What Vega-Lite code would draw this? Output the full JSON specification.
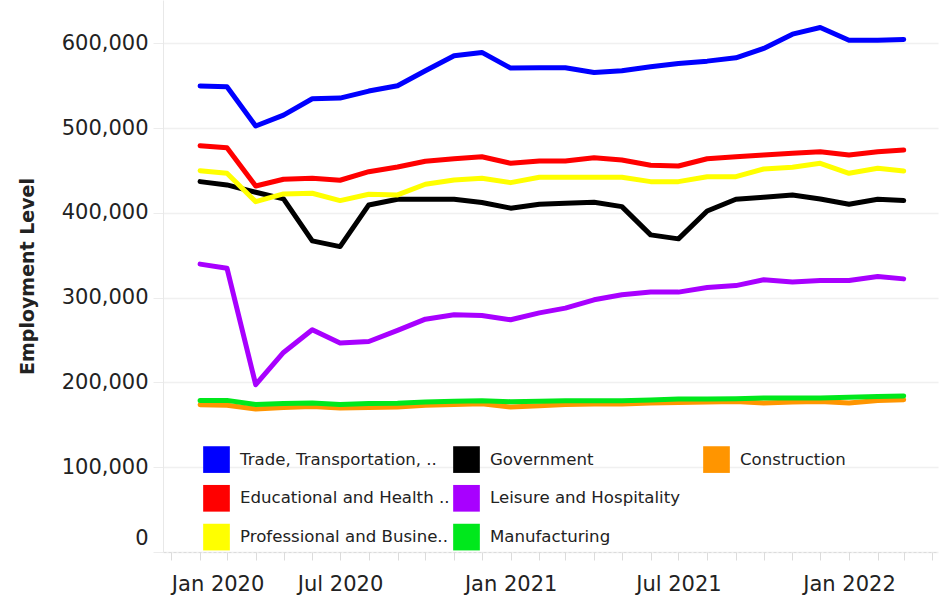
{
  "$schema": "https://vega.github.io/schema/vega-lite/v6.json",
  "width": 775,
  "height": 552,
  "autosize": {"type": "none"},
  "padding": {"left": 163, "top": 0, "right": 7, "bottom": 48},
  "background": "white",
  "config": {"view": {"stroke": null}, "font": "DejaVu Sans"},
  "datasets": {
    "employment": [
      {"month":"2020-02-01","sector":"Construction","employment":173700},
      {"month":"2020-03-01","sector":"Construction","employment":173000},
      {"month":"2020-04-01","sector":"Construction","employment":168700},
      {"month":"2020-05-01","sector":"Construction","employment":170500},
      {"month":"2020-06-01","sector":"Construction","employment":171700},
      {"month":"2020-07-01","sector":"Construction","employment":169800},
      {"month":"2020-08-01","sector":"Construction","employment":170500},
      {"month":"2020-09-01","sector":"Construction","employment":171000},
      {"month":"2020-10-01","sector":"Construction","employment":173000},
      {"month":"2020-11-01","sector":"Construction","employment":174000},
      {"month":"2020-12-01","sector":"Construction","employment":174900},
      {"month":"2021-01-01","sector":"Construction","employment":171000},
      {"month":"2021-02-01","sector":"Construction","employment":172600},
      {"month":"2021-03-01","sector":"Construction","employment":174000},
      {"month":"2021-04-01","sector":"Construction","employment":174500},
      {"month":"2021-05-01","sector":"Construction","employment":174500},
      {"month":"2021-06-01","sector":"Construction","employment":175700},
      {"month":"2021-07-01","sector":"Construction","employment":176400},
      {"month":"2021-08-01","sector":"Construction","employment":176800},
      {"month":"2021-09-01","sector":"Construction","employment":177500},
      {"month":"2021-10-01","sector":"Construction","employment":175700},
      {"month":"2021-11-01","sector":"Construction","employment":176800},
      {"month":"2021-12-01","sector":"Construction","employment":177500},
      {"month":"2022-01-01","sector":"Construction","employment":175700},
      {"month":"2022-02-01","sector":"Construction","employment":178800},
      {"month":"2022-03-01","sector":"Construction","employment":179600},
      {"month":"2020-02-01","sector":"Manufacturing","employment":178800},
      {"month":"2020-03-01","sector":"Manufacturing","employment":178800},
      {"month":"2020-04-01","sector":"Manufacturing","employment":174000},
      {"month":"2020-05-01","sector":"Manufacturing","employment":175000},
      {"month":"2020-06-01","sector":"Manufacturing","employment":175700},
      {"month":"2020-07-01","sector":"Manufacturing","employment":174000},
      {"month":"2020-08-01","sector":"Manufacturing","employment":175200},
      {"month":"2020-09-01","sector":"Manufacturing","employment":175500},
      {"month":"2020-10-01","sector":"Manufacturing","employment":176900},
      {"month":"2020-11-01","sector":"Manufacturing","employment":177700},
      {"month":"2020-12-01","sector":"Manufacturing","employment":178400},
      {"month":"2021-01-01","sector":"Manufacturing","employment":177300},
      {"month":"2021-02-01","sector":"Manufacturing","employment":177700},
      {"month":"2021-03-01","sector":"Manufacturing","employment":178400},
      {"month":"2021-04-01","sector":"Manufacturing","employment":178400},
      {"month":"2021-05-01","sector":"Manufacturing","employment":178400},
      {"month":"2021-06-01","sector":"Manufacturing","employment":179200},
      {"month":"2021-07-01","sector":"Manufacturing","employment":180400},
      {"month":"2021-08-01","sector":"Manufacturing","employment":180400},
      {"month":"2021-09-01","sector":"Manufacturing","employment":180800},
      {"month":"2021-10-01","sector":"Manufacturing","employment":181600},
      {"month":"2021-11-01","sector":"Manufacturing","employment":181600},
      {"month":"2021-12-01","sector":"Manufacturing","employment":181600},
      {"month":"2022-01-01","sector":"Manufacturing","employment":182400},
      {"month":"2022-02-01","sector":"Manufacturing","employment":183500},
      {"month":"2022-03-01","sector":"Manufacturing","employment":184000},
      {"month":"2020-02-01","sector":"Leisure and Hospitality","employment":339500},
      {"month":"2020-03-01","sector":"Leisure and Hospitality","employment":334700},
      {"month":"2020-04-01","sector":"Leisure and Hospitality","employment":197300},
      {"month":"2020-05-01","sector":"Leisure and Hospitality","employment":235300},
      {"month":"2020-06-01","sector":"Leisure and Hospitality","employment":262100},
      {"month":"2020-07-01","sector":"Leisure and Hospitality","employment":246400},
      {"month":"2020-08-01","sector":"Leisure and Hospitality","employment":248300},
      {"month":"2020-09-01","sector":"Leisure and Hospitality","employment":261300},
      {"month":"2020-10-01","sector":"Leisure and Hospitality","employment":274600},
      {"month":"2020-11-01","sector":"Leisure and Hospitality","employment":279700},
      {"month":"2020-12-01","sector":"Leisure and Hospitality","employment":278900},
      {"month":"2021-01-01","sector":"Leisure and Hospitality","employment":273900},
      {"month":"2021-02-01","sector":"Leisure and Hospitality","employment":282000},
      {"month":"2021-03-01","sector":"Leisure and Hospitality","employment":287600},
      {"month":"2021-04-01","sector":"Leisure and Hospitality","employment":297400},
      {"month":"2021-05-01","sector":"Leisure and Hospitality","employment":303300},
      {"month":"2021-06-01","sector":"Leisure and Hospitality","employment":306500},
      {"month":"2021-07-01","sector":"Leisure and Hospitality","employment":306500},
      {"month":"2021-08-01","sector":"Leisure and Hospitality","employment":311900},
      {"month":"2021-09-01","sector":"Leisure and Hospitality","employment":314200},
      {"month":"2021-10-01","sector":"Leisure and Hospitality","employment":321000},
      {"month":"2021-11-01","sector":"Leisure and Hospitality","employment":318300},
      {"month":"2021-12-01","sector":"Leisure and Hospitality","employment":320100},
      {"month":"2022-01-01","sector":"Leisure and Hospitality","employment":320100},
      {"month":"2022-02-01","sector":"Leisure and Hospitality","employment":324900},
      {"month":"2022-03-01","sector":"Leisure and Hospitality","employment":322100},
      {"month":"2020-02-01","sector":"Government","employment":436800},
      {"month":"2020-03-01","sector":"Government","employment":432900},
      {"month":"2020-04-01","sector":"Government","employment":424300},
      {"month":"2020-05-01","sector":"Government","employment":416400},
      {"month":"2020-06-01","sector":"Government","employment":366900},
      {"month":"2020-07-01","sector":"Government","employment":360200},
      {"month":"2020-08-01","sector":"Government","employment":409300},
      {"month":"2020-09-01","sector":"Government","employment":416000},
      {"month":"2020-10-01","sector":"Government","employment":416000},
      {"month":"2020-11-01","sector":"Government","employment":416000},
      {"month":"2020-12-01","sector":"Government","employment":412100},
      {"month":"2021-01-01","sector":"Government","employment":405500},
      {"month":"2021-02-01","sector":"Government","employment":410200},
      {"month":"2021-03-01","sector":"Government","employment":411300},
      {"month":"2021-04-01","sector":"Government","employment":412500},
      {"month":"2021-05-01","sector":"Government","employment":407300},
      {"month":"2021-06-01","sector":"Government","employment":374000},
      {"month":"2021-07-01","sector":"Government","employment":369300},
      {"month":"2021-08-01","sector":"Government","employment":402200},
      {"month":"2021-09-01","sector":"Government","employment":416000},
      {"month":"2021-10-01","sector":"Government","employment":418400},
      {"month":"2021-11-01","sector":"Government","employment":421100},
      {"month":"2021-12-01","sector":"Government","employment":416400},
      {"month":"2022-01-01","sector":"Government","employment":410200},
      {"month":"2022-02-01","sector":"Government","employment":416000},
      {"month":"2022-03-01","sector":"Government","employment":414400},
      {"month":"2020-02-01","sector":"Professional and Business Services","employment":449700},
      {"month":"2020-03-01","sector":"Professional and Business Services","employment":446600},
      {"month":"2020-04-01","sector":"Professional and Business Services","employment":413200},
      {"month":"2020-05-01","sector":"Professional and Business Services","employment":422300},
      {"month":"2020-06-01","sector":"Professional and Business Services","employment":423100},
      {"month":"2020-07-01","sector":"Professional and Business Services","employment":414400},
      {"month":"2020-08-01","sector":"Professional and Business Services","employment":421900},
      {"month":"2020-09-01","sector":"Professional and Business Services","employment":421100},
      {"month":"2020-10-01","sector":"Professional and Business Services","employment":433700},
      {"month":"2020-11-01","sector":"Professional and Business Services","employment":438800},
      {"month":"2020-12-01","sector":"Professional and Business Services","employment":440700},
      {"month":"2021-01-01","sector":"Professional and Business Services","employment":435600},
      {"month":"2021-02-01","sector":"Professional and Business Services","employment":441900},
      {"month":"2021-03-01","sector":"Professional and Business Services","employment":441900},
      {"month":"2021-04-01","sector":"Professional and Business Services","employment":441900},
      {"month":"2021-05-01","sector":"Professional and Business Services","employment":441900},
      {"month":"2021-06-01","sector":"Professional and Business Services","employment":436800},
      {"month":"2021-07-01","sector":"Professional and Business Services","employment":436800},
      {"month":"2021-08-01","sector":"Professional and Business Services","employment":442600},
      {"month":"2021-09-01","sector":"Professional and Business Services","employment":442600},
      {"month":"2021-10-01","sector":"Professional and Business Services","employment":451700},
      {"month":"2021-11-01","sector":"Professional and Business Services","employment":453700},
      {"month":"2021-12-01","sector":"Professional and Business Services","employment":458400},
      {"month":"2022-01-01","sector":"Professional and Business Services","employment":446600},
      {"month":"2022-02-01","sector":"Professional and Business Services","employment":452500},
      {"month":"2022-03-01","sector":"Professional and Business Services","employment":449400},
      {"month":"2020-02-01","sector":"Educational and Health Services","employment":479200},
      {"month":"2020-03-01","sector":"Educational and Health Services","employment":476800},
      {"month":"2020-04-01","sector":"Educational and Health Services","employment":431700},
      {"month":"2020-05-01","sector":"Educational and Health Services","employment":439600},
      {"month":"2020-06-01","sector":"Educational and Health Services","employment":440700},
      {"month":"2020-07-01","sector":"Educational and Health Services","employment":438400},
      {"month":"2020-08-01","sector":"Educational and Health Services","employment":448500},
      {"month":"2020-09-01","sector":"Educational and Health Services","employment":454100},
      {"month":"2020-10-01","sector":"Educational and Health Services","employment":460800},
      {"month":"2020-11-01","sector":"Educational and Health Services","employment":463800},
      {"month":"2020-12-01","sector":"Educational and Health Services","employment":466200},
      {"month":"2021-01-01","sector":"Educational and Health Services","employment":458400},
      {"month":"2021-02-01","sector":"Educational and Health Services","employment":461100},
      {"month":"2021-03-01","sector":"Educational and Health Services","employment":461100},
      {"month":"2021-04-01","sector":"Educational and Health Services","employment":465000},
      {"month":"2021-05-01","sector":"Educational and Health Services","employment":462300},
      {"month":"2021-06-01","sector":"Educational and Health Services","employment":456100},
      {"month":"2021-07-01","sector":"Educational and Health Services","employment":455200},
      {"month":"2021-08-01","sector":"Educational and Health Services","employment":463800},
      {"month":"2021-09-01","sector":"Educational and Health Services","employment":466200},
      {"month":"2021-10-01","sector":"Educational and Health Services","employment":468200},
      {"month":"2021-11-01","sector":"Educational and Health Services","employment":470200},
      {"month":"2021-12-01","sector":"Educational and Health Services","employment":472100},
      {"month":"2022-01-01","sector":"Educational and Health Services","employment":468200},
      {"month":"2022-02-01","sector":"Educational and Health Services","employment":472100},
      {"month":"2022-03-01","sector":"Educational and Health Services","employment":474100},
      {"month":"2020-02-01","sector":"Trade, Transportation, and Utilities","employment":549500},
      {"month":"2020-03-01","sector":"Trade, Transportation, and Utilities","employment":548700},
      {"month":"2020-04-01","sector":"Trade, Transportation, and Utilities","employment":502400},
      {"month":"2020-05-01","sector":"Trade, Transportation, and Utilities","employment":515300},
      {"month":"2020-06-01","sector":"Trade, Transportation, and Utilities","employment":534500},
      {"month":"2020-07-01","sector":"Trade, Transportation, and Utilities","employment":535300},
      {"month":"2020-08-01","sector":"Trade, Transportation, and Utilities","employment":543600},
      {"month":"2020-09-01","sector":"Trade, Transportation, and Utilities","employment":549800},
      {"month":"2020-10-01","sector":"Trade, Transportation, and Utilities","employment":567500},
      {"month":"2020-11-01","sector":"Trade, Transportation, and Utilities","employment":585200},
      {"month":"2020-12-01","sector":"Trade, Transportation, and Utilities","employment":589200},
      {"month":"2021-01-01","sector":"Trade, Transportation, and Utilities","employment":570700},
      {"month":"2021-02-01","sector":"Trade, Transportation, and Utilities","employment":571000},
      {"month":"2021-03-01","sector":"Trade, Transportation, and Utilities","employment":571000},
      {"month":"2021-04-01","sector":"Trade, Transportation, and Utilities","employment":565600},
      {"month":"2021-05-01","sector":"Trade, Transportation, and Utilities","employment":567500},
      {"month":"2021-06-01","sector":"Trade, Transportation, and Utilities","employment":572200},
      {"month":"2021-07-01","sector":"Trade, Transportation, and Utilities","employment":576200},
      {"month":"2021-08-01","sector":"Trade, Transportation, and Utilities","employment":578900},
      {"month":"2021-09-01","sector":"Trade, Transportation, and Utilities","employment":582800},
      {"month":"2021-10-01","sector":"Trade, Transportation, and Utilities","employment":593900},
      {"month":"2021-11-01","sector":"Trade, Transportation, and Utilities","employment":610700},
      {"month":"2021-12-01","sector":"Trade, Transportation, and Utilities","employment":618600},
      {"month":"2022-01-01","sector":"Trade, Transportation, and Utilities","employment":603600},
      {"month":"2022-02-01","sector":"Trade, Transportation, and Utilities","employment":603600},
      {"month":"2022-03-01","sector":"Trade, Transportation, and Utilities","employment":604500}
    ]
  },
  "data": {"name": "employment"},
  "mark": {"type": "line", "strokeWidth": 5, "strokeCap": "round", "strokeJoin": "round"},
  "encoding": {
    "x": {
      "field": "month",
      "type": "temporal",
      "scale": {
        "type": "utc",
        "domain": [
          {"year": 2019, "month": 12, "date": 23, "utc": true},
          {"year": 2022, "month": 4, "date": 7, "utc": true}
        ]
      },
      "axis": {
        "title": null,
        "grid": false,
        "tickCount": {"interval": "month", "step": 1},
        "labelExpr": "utcmonth(datum.value) % 6 == 0 ? utcFormat(datum.value, '%b %Y') : ''",
        "labelOverlap": false,
        "labelBound": false,
        "labelFlush": 12,
        "labelFontSize": 21,
        "labelColor": "#222222",
        "labelPadding": 13,
        "tickSize": 8,
        "tickColor": "#dcdcdc",
        "domainColor": "#dcdcdc",
        "domainDash": [3, 2]
      }
    },
    "y": {
      "field": "employment",
      "type": "quantitative",
      "scale": {"domain": [0, 651000], "nice": false, "zero": true},
      "axis": {
        "title": "Employment Level",
        "titleFontSize": 19,
        "titleFontWeight": "bold",
        "titleColor": "#222222",
        "titlePadding": 24,
        "values": [0, 100000, 200000, 300000, 400000, 500000, 600000],
        "format": ",d",
        "labelFontSize": 21,
        "labelColor": "#222222",
        "labelPadding": 5,
        "labelFlush": 3,
        "labelFlushOffset": -4,
        "tickSize": 10,
        "tickColor": "#ececec",
        "domainColor": "#e8e8e8",
        "gridColor": "#f0f0f0",
        "gridWidth": 1.5
      }
    },
    "color": {
      "field": "sector",
      "type": "nominal",
      "scale": {
        "domain": ["Trade, Transportation, and Utilities", "Government", "Construction", "Educational and Health Services", "Leisure and Hospitality", " ", "Professional and Business Services", "Manufacturing"],
        "range": ["#0000ff", "#000000", "#ff9500", "#ff0000", "#a800ff", "rgba(0,0,0,0)", "#ffff00", "#00e81c"]
      },
      "legend": {
        "title": null,
        "orient": "none",
        "legendX": 40,
        "legendY": 446,
        "columns": 3,
        "direction": "horizontal",
        "gridAlign": "all",
        "padding": 0,
        "symbolType": "square",
        "symbolSize": 712,
        "labelFontSize": 16.6,
        "labelColor": "#222222",
        "labelOffset": 10,
        "labelLimit": 400,
        "rowPadding": 11.8,
        "columnPadding": 3,
        "labelExpr": "datum.label == 'Trade, Transportation, and Utilities' ? 'Trade, Transportation, ..' : datum.label == 'Educational and Health Services' ? 'Educational and Health ..' : datum.label == 'Professional and Business Services' ? 'Professional and Busine..' : datum.label",
        "encode": {
          "symbols": {
            "update": {
              "fill": {"scale": "color", "field": "value"},
              "fillOpacity": {"value": 1},
              "strokeWidth": {"value": 0}
            }
          }
        }
      }
    }
  }
}
